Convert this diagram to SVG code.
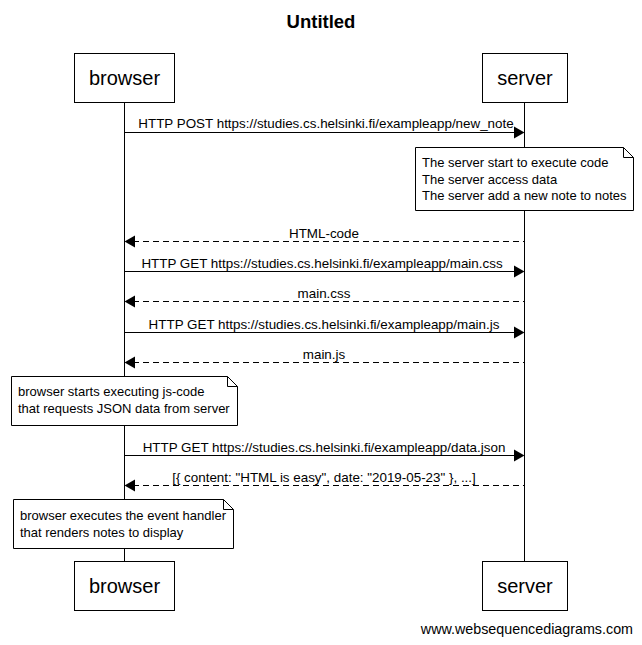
<svg xmlns="http://www.w3.org/2000/svg" width="642" height="645" viewBox="0 0 642 645">
<style>
text{font-family:"Liberation Sans",Arial,sans-serif;fill:#000}
.msg{font-size:13.4px;text-anchor:middle}
.note{font-size:13px}
.part{font-size:20px;text-anchor:middle}
.box{fill:#fff;stroke:#000;stroke-width:1}
.line{stroke:#000;stroke-width:1;fill:none}
.dash{stroke:#000;stroke-width:1;fill:none;stroke-dasharray:6,4}
.head{fill:#000}
</style>
<rect width="642" height="645" fill="#fff"/>
<text x="321" y="28" font-size="18.5" font-weight="bold" text-anchor="middle">Untitled</text>
<g id="lifelines">
<line class="line" x1="124.5" y1="102" x2="124.5" y2="561"/>
<line class="line" x1="524.5" y1="102" x2="524.5" y2="561"/>
</g>
<g id="browser-top"><rect class="box" x="74.5" y="53.5" width="100" height="49"/><text class="part" x="124.5" y="85">browser</text></g>
<g id="server-top"><rect class="box" x="482.5" y="53.5" width="85" height="49"/><text class="part" x="525" y="85">server</text></g>
<g id="browser-bottom"><rect class="box" x="74.5" y="561.5" width="100" height="49"/><text class="part" x="124.5" y="593">browser</text></g>
<g id="server-bottom"><rect class="box" x="482.5" y="561.5" width="85" height="49"/><text class="part" x="525" y="593">server</text></g>
<g id="connectors">
<line class="line" x1="124.5" y1="132.5" x2="516" y2="132.5"/><polygon class="head" points="514,126.5 524.5,132.5 514,138.5"/>
<text class="msg" x="326" y="128">HTTP POST https://studies.cs.helsinki.fi/exampleapp/new_note</text>
<line class="dash" x1="133" y1="241.5" x2="524.5" y2="241.5"/><polygon class="head" points="135,235.5 124.5,241.5 135,247.5"/>
<text class="msg" x="324" y="238">HTML-code</text>
<line class="line" x1="124.5" y1="271.5" x2="516" y2="271.5"/><polygon class="head" points="514,265.5 524.5,271.5 514,277.5"/>
<text class="msg" x="322" y="268">HTTP GET https://studies.cs.helsinki.fi/exampleapp/main.css</text>
<line class="dash" x1="133" y1="301.5" x2="524.5" y2="301.5"/><polygon class="head" points="135,295.5 124.5,301.5 135,307.5"/>
<text class="msg" x="324" y="298">main.css</text>
<line class="line" x1="124.5" y1="332.5" x2="516" y2="332.5"/><polygon class="head" points="514,326.5 524.5,332.5 514,338.5"/>
<text class="msg" x="324" y="329">HTTP GET https://studies.cs.helsinki.fi/exampleapp/main.js</text>
<line class="dash" x1="133" y1="362.5" x2="524.5" y2="362.5"/><polygon class="head" points="135,356.5 124.5,362.5 135,368.5"/>
<text class="msg" x="324" y="359">main.js</text>
<line class="line" x1="124.5" y1="455.5" x2="516" y2="455.5"/><polygon class="head" points="514,449.5 524.5,455.5 514,461.5"/>
<text class="msg" x="324" y="452">HTTP GET https://studies.cs.helsinki.fi/exampleapp/data.json</text>
<line class="dash" x1="133" y1="485.5" x2="524.5" y2="485.5"/><polygon class="head" points="135,479.5 124.5,485.5 135,491.5"/>
<text class="msg" x="324" y="482">[{ content: "HTML is easy", date: "2019-05-23" }, ...]</text>
</g>
<g id="note-server">
<path class="box" d="M415.5,147.5 H623.5 L633.5,157.5 V210.5 H415.5 Z"/>
<path class="line" d="M623.5,147.5 V157.5 H633.5"/>
<text class="note" x="422" y="167">The server start to execute code</text>
<text class="note" x="422" y="184">The server access data</text>
<text class="note" x="422" y="200">The server add a new note to notes</text>
</g>
<g id="note-browser-1">
<path class="box" d="M11.5,376.5 H227.5 L237.5,386.5 V425.5 H11.5 Z"/>
<path class="line" d="M227.5,376.5 V386.5 H237.5"/>
<text class="note" x="18" y="396">browser starts executing js-code</text>
<text class="note" x="18" y="413">that requests JSON data from server</text>
</g>
<g id="note-browser-2">
<path class="box" d="M13.5,499.5 H223.5 L233.5,509.5 V548.5 H13.5 Z"/>
<path class="line" d="M223.5,499.5 V509.5 H233.5"/>
<text class="note" x="20" y="520">browser executes the event handler</text>
<text class="note" x="20" y="537">that renders notes to display</text>
</g>
<text x="633" y="634" font-size="14.3" text-anchor="end">www.websequencediagrams.com</text>
</svg>
